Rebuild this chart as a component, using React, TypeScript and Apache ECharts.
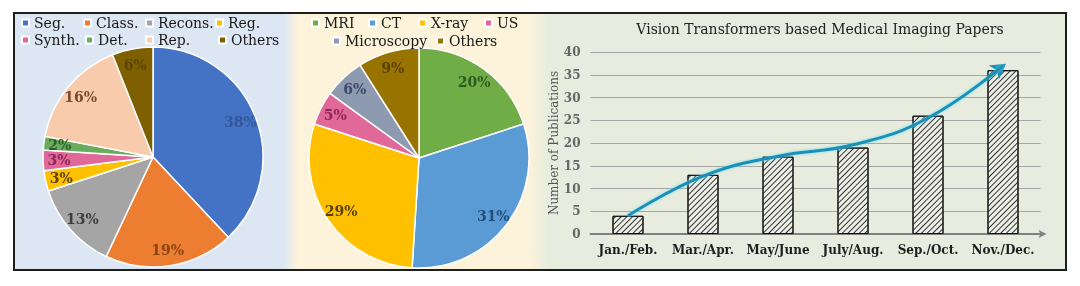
import React, { useEffect, useRef } from "react";
import * as echarts from "echarts";

const taskNames = ["Seg.", "Class.", "Recons.", "Reg.", "Synth.", "Det.", "Rep.", "Others"];
const taskValues = [38, 19, 13, 3, 3, 2, 16, 6];
const taskColors = ["#4472c4", "#ed7d31", "#a5a5a5", "#ffc000", "#e0699a", "#6aab5e", "#f8cbad", "#7f6000"];
const taskLabelColors = ["#34579a", "#8a4514", "#3d3d3d", "#5a4300", "#8b2656", "#2e5e2a", "#7a4a2a", "#5a4600"];

const modalityNames = ["MRI", "CT", "X-ray", "US", "Microscopy", "Others"];
const modalityValues = [20, 31, 29, 5, 6, 9];
const modalityColors = ["#70ad47", "#5b9bd5", "#ffc000", "#e0699a", "#8d9ab0", "#997300"];
const modalityLabelColors = ["#2f5a1e", "#1f4e79", "#5a4300", "#8b2656", "#3b4a6b", "#5c4200"];

const periods = ["Jan./Feb.", "Mar./Apr.", "May/June", "July/Aug.", "Sep./Oct.", "Nov./Dec."];
const papers = [4, 13, 17, 19, 26, 36];
const trend = [4, 12.7, 17.1, 19.6, 25.5, 37];

const taskLegendPos = [
  [21, 16], [83, 16], [145, 16], [215, 16],
  [21, 33], [85, 33], [145, 33], [218, 33],
];
const modalityLegendPos = [
  [311, 16], [368, 16], [418, 16], [484, 16],
  [332, 34], [436, 34],
];

const SERIF = "DejaVu Serif";

export default function App() {
  const ref = useRef<HTMLDivElement>(null);
  useEffect(() => {
    if (!ref.current) return;
    const chart = echarts.init(ref.current, null, { renderer: "svg" });

    const legendBase = {
      orient: "horizontal",
      padding: 0,
      itemWidth: 7,
      itemHeight: 7,
      icon: "rect",
      selectedMode: false,
      textStyle: { fontFamily: SERIF, fontSize: 14, color: "#1a1a1a" },
    };
    const legends: any[] = [];
    taskNames.forEach((n, i) => {
      legends.push({
        ...legendBase,
        left: taskLegendPos[i][0],
        top: taskLegendPos[i][1],
        data: [{ name: n, itemStyle: { color: taskColors[i] } }],
      });
    });
    modalityNames.forEach((n, i) => {
      legends.push({
        ...legendBase,
        left: modalityLegendPos[i][0],
        top: modalityLegendPos[i][1],
        data: [{ name: n, itemStyle: { color: modalityColors[i] } }],
      });
    });

    const pieMain = (names: string[], values: number[], colors: string[], center: number[]) => ({
      type: "pie",
      center,
      radius: 110,
      startAngle: 90,
      clockwise: true,
      label: { show: false },
      labelLine: { show: false },
      itemStyle: { borderColor: "#ffffff", borderWidth: 1.5 },
      emphasis: { disabled: true },
      data: names.map((n, i) => ({ name: n, value: values[i], itemStyle: { color: colors[i] } })),
    });
    const pieLabels = (names: string[], values: number[], lcolors: string[], center: number[]) => ({
      type: "pie",
      center,
      radius: [72, 110],
      startAngle: 90,
      clockwise: true,
      silent: true,
      z: 3,
      itemStyle: { color: "rgba(0,0,0,0)" },
      labelLine: { show: false },
      emphasis: { disabled: true },
      data: names.map((n, i) => ({
        name: n,
        value: values[i],
        label: {
          show: true,
          position: "inside",
          formatter: "{c}%",
          fontFamily: SERIF,
          fontWeight: "bold",
          fontSize: 14,
          color: lcolors[i],
        },
      })),
    });

    const option: any = {
      animation: false,
      graphic: [
        {
          type: "rect",
          z: -100,
          shape: { x: 14, y: 13, width: 1052, height: 257 },
          style: {
            fill: {
              type: "linear",
              x: 0, y: 0, x2: 1, y2: 0,
              colorStops: [
                { offset: 0, color: "#dde7f3" },
                { offset: 0.256, color: "#dde7f3" },
                { offset: 0.27, color: "#fdf2da" },
                { offset: 0.49, color: "#fdf2da" },
                { offset: 0.508, color: "#e7ecde" },
                { offset: 1, color: "#e7ecde" },
              ],
            },
            stroke: "#1e1e1e",
            lineWidth: 2,
          },
        },
      ],
      title: {
        text: "Vision Transformers based Medical Imaging Papers",
        left: 815,
        textAlign: "center",
        top: 17,
        textStyle: { fontFamily: SERIF, fontSize: 14, fontWeight: "normal", color: "#222" },
      },
      legend: legends,
      grid: { left: 590.5, right: 39.5, top: 52, bottom: 52, containLabel: false },
      xAxis: {
        type: "category",
        data: periods,
        axisTick: { show: false },
        axisLine: {
          show: true,
          symbol: ["none", "arrow"],
          symbolSize: [6, 8],
          symbolOffset: [0, 6],
          lineStyle: { color: "#808080", width: 2 },
        },
        axisLabel: {
          interval: 0,
          hideOverlap: false,
          margin: 10,
          fontFamily: SERIF,
          fontWeight: "bold",
          fontSize: 12,
          color: "#1e1e1e",
        },
      },
      yAxis: {
        type: "value",
        min: 0,
        max: 40,
        interval: 5,
        name: "Number of Publications",
        nameLocation: "middle",
        nameRotate: 90,
        nameGap: 29,
        nameTextStyle: { fontFamily: SERIF, fontSize: 12, color: "#555" },
        axisLine: { show: false },
        axisTick: { show: false },
        axisLabel: { margin: 10, fontFamily: SERIF, fontSize: 12, fontWeight: "bold", color: "#666" },
        splitLine: { lineStyle: { color: "#a6a6a6", width: 1 } },
      },
      series: [
        pieMain(taskNames, taskValues, taskColors, [153, 157]),
        pieMain(modalityNames, modalityValues, modalityColors, [419, 158]),
        pieLabels(taskNames, taskValues, taskLabelColors, [153, 157]),
        pieLabels(modalityNames, modalityValues, modalityLabelColors, [419, 158]),
        {
          type: "bar",
          data: papers,
          barWidth: 31,
          itemStyle: {
            color: "#eef0e8",
            borderColor: "#111",
            borderWidth: 1,
            decal: {
              symbol: "rect",
              symbolSize: 1,
              color: "#333",
              dashArrayX: [1, 0],
              dashArrayY: [1, 3],
              rotation: -Math.PI / 4,
            },
          },
          emphasis: { disabled: true },
        },
        {
          type: "line",
          data: trend,
          smooth: 0.45,
          symbol: "none",
          z: 5,
          lineStyle: {
            color: "#1b8fb8",
            width: 3,
            shadowColor: "rgba(90,220,240,0.9)",
            shadowBlur: 3,
          },
          markPoint: {
            symbol: "arrow",
            symbolSize: [13, 15],
            symbolRotate: -54,
            symbolOffset: [3, -2],
            itemStyle: { color: "#1b8fb8" },
            label: { show: false },
            silent: true,
            data: [{ coord: [periods.length - 1, trend[trend.length - 1]] }],
          },
        },
      ],
    };
    chart.setOption(option);
    return () => chart.dispose();
  }, []);
  return (
    <div
      ref={ref}
      style={{ position: "fixed", left: 0, top: 0, width: 1080, height: 286 }}
    />
  );
}
